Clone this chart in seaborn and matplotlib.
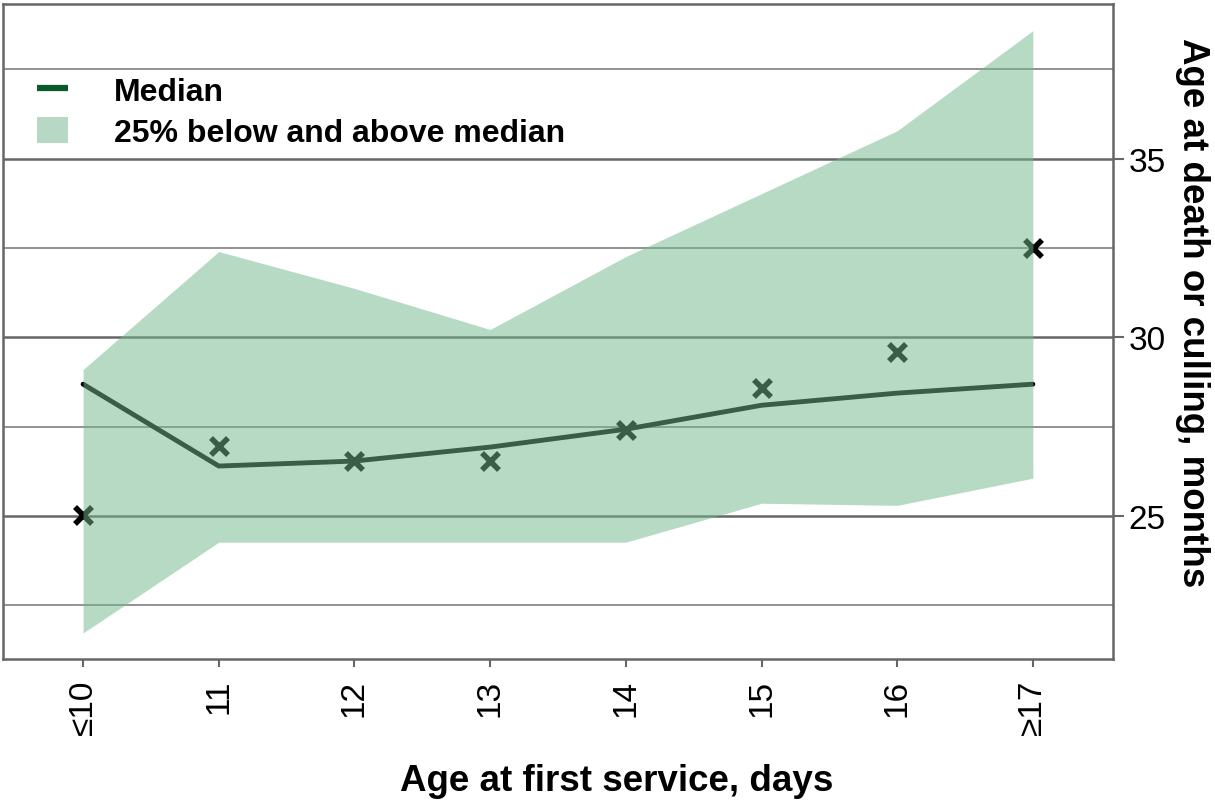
import matplotlib
matplotlib.use("Agg")
import matplotlib.pyplot as plt
import seaborn as sns
import pandas as pd
from matplotlib.lines import Line2D
from matplotlib.patches import Patch

categories = ["≤10", "11", "12", "13", "14", "15", "16", "≥17"]
median = [28.69, 26.40, 26.54, 26.93, 27.43, 28.10, 28.44, 28.69]
upper = [29.10, 32.40, 31.37, 30.22, 32.26, 34.02, 35.78, 38.58]
lower = [21.73, 24.27, 24.27, 24.27, 24.27, 25.36, 25.30, 26.06]
points = [25.03, 26.96, 26.54, 26.54, 27.40, 28.58, 29.60, 32.51]

sns.set_theme(style="white")
plt.rcParams['font.family'] = ['Liberation Sans', 'DejaVu Sans']
plt.rcParams['text.color'] = 'black'
plt.rcParams['axes.labelcolor'] = 'black'
plt.rcParams['xtick.color'] = 'black'
plt.rcParams['ytick.color'] = 'black'

df = pd.DataFrame({"pos": range(len(categories)), "median": median,
                   "upper": upper, "lower": lower, "points": points})

fig = plt.figure(figsize=(12.15, 8.04), dpi=100)
ax = fig.add_axes([0.0025, 0.179, 0.9135, 0.815])

# gridlines
for y in [22.5, 27.5, 32.5, 37.5]:
    ax.axhline(y, color="#8a8a8a", lw=1.3, zorder=1)
for y in [25, 30, 35]:
    ax.axhline(y, color="#666666", lw=1.8, zorder=1)

sns.lineplot(data=df, x="pos", y="median", color="black", lw=3.5, ax=ax, zorder=2)
sns.scatterplot(data=df, x="pos", y="points", marker="x", s=150, color="black",
                linewidth=4, ax=ax, zorder=3)
ax.fill_between(df["pos"], df["lower"], df["upper"], color="#72b88d", alpha=0.51,
                lw=0, zorder=4)

ax.set_xlim(-0.59, 7.59)
ax.set_ylim(21.0, 39.33)
ax.set_xticks(range(len(categories)))
ax.set_xticklabels(categories, rotation=90, fontsize=24)
ax.set_yticks([25, 30, 35])
ax.set_yticklabels(["25", "30", "35"], fontsize=24)
ax.yaxis.tick_right()
ax.yaxis.set_label_position("right")
ax.tick_params(axis="y", which="major", direction="out", length=8, width=1.5,
               color="#666666", pad=3, right=True, left=False)
ax.tick_params(axis="x", direction="out", length=6, width=1.5, color="#666666",
               pad=8, bottom=True)
ax.set_xlabel("Age at first service, days", fontsize=26.5, fontweight="bold")
ax.set_ylabel("Age at death or culling, months", fontsize=26.5, fontweight="bold",
              rotation=270)
ax.xaxis.set_label_coords(0.553, -0.158)
ax.yaxis.set_label_coords(1.087, 0.531)
for s in ax.spines.values():
    s.set_color("#666666")
    s.set_linewidth(1.8)

handles = [Line2D([0], [0], color="#0b5a2c", lw=4.5, solid_capstyle="butt"),
           Patch(facecolor="#b8d8c6", edgecolor="none")]
leg = ax.legend(handles, ["Median", "25% below and above median"],
                loc="upper left", bbox_to_anchor=(0.031, 0.89), frameon=False,
                prop={"size": 23, "weight": "bold"}, handlelength=0.95,
                handleheight=0.9, handletextpad=1.45, labelspacing=0.3,
                borderpad=0, borderaxespad=0)

fig.savefig("out.png", dpi=100)
